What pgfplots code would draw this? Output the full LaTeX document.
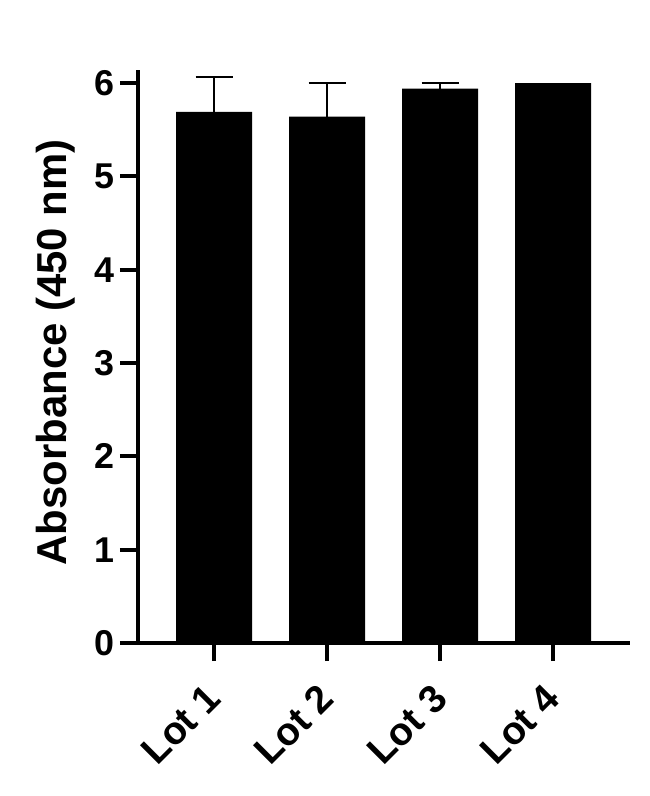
\documentclass[border=0pt]{standalone}
\usepackage{fontspec}
\setmainfont{Liberation Sans}
\usepackage{pgfplots}
\pgfplotsset{compat=1.18}
\begin{document}
\begin{tikzpicture}
\begin{axis}[
  at={(0,0)}, anchor=south west,
  scale only axis, width=492bp, height=573bp,
  xmin=-0.673, xmax=3.68, ymin=0, ymax=6.14,
  axis x line*=bottom, axis y line*=left,
  axis line style={line width=4bp},
  ybar, bar width=76bp,
  ytick={0,1,2,3,4,5,6},
  xtick={0,1,2,3},
  xticklabels={Lot 1,Lot 2,Lot 3,Lot 4},
  tick align=outside, major tick length=18bp,
  xtick style={draw=black, line width=4bp},
  ytick style={draw=black, line width=4bp},
  /pgf/number format/assume math mode=true,
  yticklabel style={font=\bfseries\fontsize{36}{40}\selectfont, xshift=-2bp},
  xticklabel style={font=\bfseries\fontsize{39}{40}\selectfont, xshift=-10bp, yshift=-18bp, rotate=45, anchor=north east, inner sep=2bp},
  ylabel={Absorbance (450 nm)},
  ylabel style={font=\bfseries\fontsize{42}{46}\selectfont, at={(axis description cs:0,0.5)}, anchor=center, xshift=4bp, yshift=82bp},
  clip=false,
]
\addplot[fill=black, draw=none,
  error bars/.cd, y dir=plus, y explicit,
  error bar style={line width=2bp, black},
  error mark options={rotate=90, mark size=18.5bp, line width=2bp, black}]
  coordinates {(0,5.69) +- (0,0.37) (1,5.64) +- (0,0.36) (2,5.94) +- (0,0.06) (3,6.0) +- (0,-0.03)};
\end{axis}
\pgfresetboundingbox
\path[use as bounding box] (-138bp,-153bp) rectangle (512bp,643bp);
\end{tikzpicture}
\end{document}
